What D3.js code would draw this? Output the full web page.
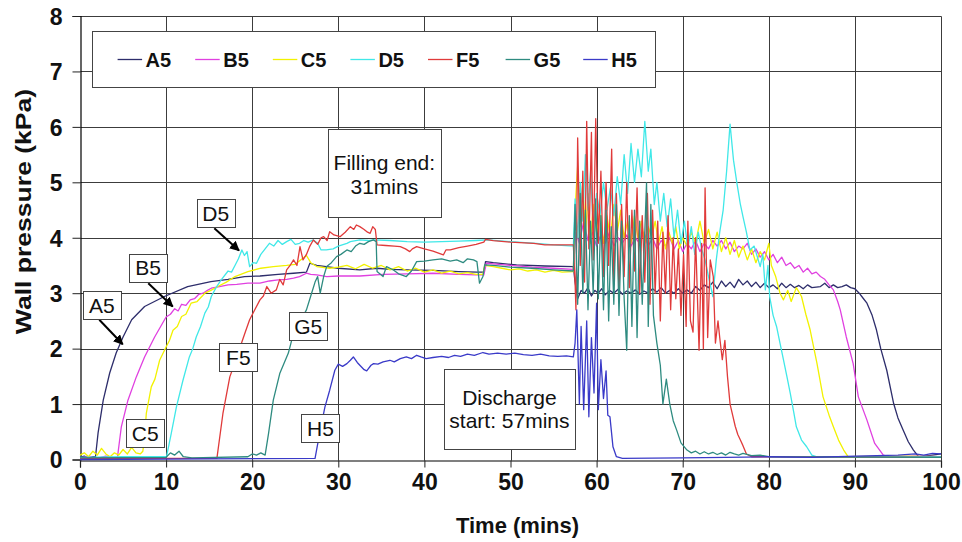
<!DOCTYPE html>
<html><head><meta charset="utf-8">
<script src="https://cdn.jsdelivr.net/npm/d3@7"></script>
<style>html,body{margin:0;padding:0;background:#fff}svg{display:block}</style>
</head><body>
<svg id="chart" width="962" height="542"></svg>
<script>
// ---------- data (time in mins, wall pressure in kPa) ----------
const seriesNames = ["A5","B5","C5","D5","F5","G5","H5"];
const seriesColors = ["#2d2d6b","#e040e0","#f2f200","#40e8e8","#e03a3a","#2e8b80","#3a3ac8"];
const xTicks = [0,10,20,30,40,50,60,70,80,90,100];
const yTicks = [0,1,2,3,4,5,6,7,8];

const a5 = [[0,0.04],[0.5,0.06],[1,0.03],[1.5,0.05],[1.8,0.05],[2.1,0.48],[2.7,1.07],[3.45,1.56],[4.2,1.92],[5,2.21],[6,2.52],[7.5,2.76],[9.8,2.94],[12.5,3.12],[15.2,3.21],[17.2,3.25],[19.1,3.3],[20.9,3.31],[23,3.34],[24.8,3.36],[26.3,3.38],[26.7,3.54],[27.5,3.5],[28.6,3.48],[30,3.45],[32.5,3.42],[34.5,3.45],[36,3.43],[38,3.42],[41,3.41],[44,3.39],[46.1,3.38],[46.9,3.38],[47.1,3.57],[48,3.55],[50.7,3.51],[54,3.49],[57.3,3.48],[57.5,3.2],[57.8,2.9],[58.2,3.05],[58.6,3.0],[59,3.1],[59.4,2.95],[59.8,3.05],[60.2,3.0],[60.6,3.08],[61,2.97],[61.5,3.05],[62,3.0],[62.5,3.07],[63,2.98],[63.5,3.04],[64,3.0],[64.5,3.06],[65,2.98],[65.5,3.04],[66,3.0],[66.5,3.08],[67,3.02],[67.5,3.1],[68,3.0],[68.5,3.05],[69,3.0],[69.5,3.08],[70,3.0],[70.5,3.06],[71,3.0],[71.5,3.12],[72,3.05],[72.5,3.15],[73,3.1],[73.5,3.2],[74,3.08],[74.5,3.22],[75,3.12],[75.5,3.2],[76,3.1],[76.5,3.25],[77,3.15],[77.5,3.22],[78,3.12],[78.5,3.2],[79,3.1],[79.5,3.18],[80,3.1],[80.5,3.15],[81,3.08],[81.5,3.18],[82,3.1],[82.5,3.16],[83,3.1],[83.5,3.14],[84,3.08],[84.5,3.15],[85,3.1],[86,3.12],[86.5,3.18],[87,3.1],[87.5,3.15],[88,3.1],[88.5,3.12],[89,3.15],[89.5,3.1],[90,3.08],[90.5,3.0],[91,2.9],[91.4,2.82],[92,2.6],[92.5,2.34],[93,2.0],[93.7,1.61],[94.5,1.01],[95,0.75],[95.6,0.53],[96.2,0.32],[96.8,0.17],[97.4,0.05],[98,0.06],[99,0.08],[100,0.1]];

const b5 = [[0,0.03],[1,0.05],[2,0.02],[3,0.06],[4,0.03],[4.35,0.04],[4.8,0.59],[5.57,1.07],[6.54,1.49],[7.5,1.85],[8.67,2.21],[10,2.57],[10.5,2.62],[11,2.72],[11.4,2.68],[11.8,2.8],[12.3,2.78],[12.8,2.88],[13.3,2.9],[13.8,2.98],[14.3,3.0],[14.8,3.05],[15.25,3.09],[16.2,3.12],[17.2,3.15],[18.2,3.16],[19.5,3.18],[20.9,3.18],[22,3.22],[23,3.24],[24,3.25],[24.8,3.27],[25.5,3.3],[26.3,3.36],[26.8,3.34],[27.5,3.33],[28.65,3.3],[30,3.31],[32.5,3.31],[35.2,3.34],[38,3.35],[41,3.36],[44,3.34],[46,3.33],[46.9,3.33],[47.2,3.54],[48,3.53],[50,3.5],[52.5,3.47],[55,3.45],[57.3,3.43],[57.6,4.1],[58,3.9],[58.5,4.3],[59,3.95],[59.5,4.1],[60,3.85],[60.5,4.05],[61,3.9],[61.5,4.1],[62,3.85],[62.5,4.0],[63,3.9],[63.5,4.05],[64,3.85],[64.5,4.0],[65,3.9],[65.5,4.1],[66,3.85],[66.5,4.0],[67,3.8],[67.5,3.95],[68,3.85],[68.5,4.0],[69,3.8],[69.5,3.95],[70,3.75],[70.5,3.9],[71,3.8],[71.5,3.95],[72,3.75],[72.5,3.9],[73,3.8],[73.5,3.95],[74,3.85],[74.5,3.95],[75,3.8],[75.5,3.92],[76,3.75],[76.5,3.85],[77,3.8],[77.5,3.9],[78,3.7],[78.5,3.8],[79,3.65],[79.5,3.75],[80,3.6],[80.5,3.7],[81,3.55],[81.5,3.65],[82,3.5],[82.5,3.55],[83,3.45],[83.5,3.5],[84,3.38],[84.5,3.45],[85,3.35],[85.5,3.38],[86,3.3],[86.5,3.25],[87,3.15],[87.5,3.06],[88,2.85],[88.3,2.7],[89,2.21],[89.8,1.73],[90.4,1.13],[91.4,0.71],[92.3,0.29],[93.3,0.08],[94,0.05],[97,0.06],[100,0.05]];

const c5 = [[0,0.08],[0.5,0.12],[1,0.05],[1.5,0.15],[2,0.08],[2.5,0.2],[3,0.1],[3.5,0.05],[4,0.12],[4.5,0.08],[5,0.18],[5.5,0.1],[6,0.22],[6.5,0.12],[7,0.1],[7.3,0.15],[7.5,0.4],[7.7,0.83],[8.28,1.31],[8.7,1.45],[9.25,1.79],[10,2.03],[10.4,2.15],[10.8,2.33],[11.3,2.4],[11.8,2.58],[12.3,2.62],[12.9,2.82],[13.6,2.85],[14.5,3.0],[15.2,3.05],[16,3.12],[17,3.2],[18,3.3],[19.5,3.39],[21,3.45],[22.45,3.48],[24,3.5],[25,3.52],[25.8,3.62],[26.3,3.68],[26.8,3.55],[27.5,3.48],[29,3.45],[30,3.47],[31,3.5],[32,3.44],[33,3.52],[34,3.45],[35,3.5],[36,3.42],[37,3.48],[38,3.4],[39,3.45],[40,3.38],[41,3.42],[42,3.36],[43,3.4],[44,3.35],[45,3.37],[46,3.34],[46.8,3.34],[47,3.5],[48,3.48],[49,3.45],[50,3.42],[51,3.44],[52,3.4],[53,3.42],[54,3.38],[55,3.41],[56,3.38],[57.3,3.39],[57.5,4.5],[57.8,5.3],[58.1,4.2],[58.4,5.0],[58.7,4.0],[59,4.8],[59.3,3.9],[59.6,4.6],[60,4.1],[60.4,4.5],[60.8,3.9],[61.2,4.4],[61.6,4.0],[62,4.6],[62.4,4.1],[62.8,4.5],[63.2,4.0],[63.6,4.3],[64,3.9],[64.4,4.4],[64.8,4.0],[65.2,4.3],[65.6,3.9],[66,4.2],[66.4,4.0],[66.8,4.3],[67.2,3.9],[67.6,4.2],[68,3.8],[68.4,4.1],[68.8,3.9],[69.2,4.2],[69.6,3.8],[70,4.0],[70.5,3.85],[71,4.1],[71.5,3.9],[72,4.3],[72.5,3.9],[73,4.15],[73.5,3.8],[74,4.1],[74.5,3.75],[75,4.0],[75.5,3.7],[76,3.95],[76.5,3.65],[77,3.85],[77.5,3.6],[78,3.8],[78.5,3.55],[79,3.75],[79.5,3.6],[80,3.9],[80.3,3.5],[80.8,3.3],[81.3,3.0],[81.7,2.88],[82.2,3.05],[82.6,2.85],[83.2,3.1],[83.8,2.94],[84.3,2.62],[84.8,2.34],[85.6,1.73],[86.3,1.13],[87,0.8],[87.5,0.59],[88.1,0.35],[88.7,0.17],[89.2,0.05],[95,0.06],[100,0.05]];

const d5 = [[0,0.04],[5,0.05],[10.05,0.05],[10.6,0.47],[11.2,0.95],[11.96,1.43],[12.7,1.85],[13.1,2.0],[13.5,2.21],[14,2.4],[14.5,2.64],[14.9,2.75],[15.25,2.94],[15.8,3.1],[16.4,3.24],[17.2,3.4],[17.6,3.38],[18,3.5],[18.4,3.62],[18.8,3.78],[19.1,3.68],[19.4,3.75],[19.7,3.48],[20.1,3.55],[20.5,3.54],[21,3.7],[21.5,3.8],[22,3.9],[22.5,3.85],[23,3.95],[23.5,3.88],[24,3.93],[24.5,3.97],[25,3.88],[25.5,3.9],[26,3.95],[26.5,3.92],[27.1,3.96],[27.6,3.9],[28,3.78],[28.6,3.78],[29.4,3.8],[30,3.85],[31,3.9],[31.4,3.93],[32.5,3.96],[33.5,3.95],[34.1,3.96],[36,3.95],[38,3.93],[40,3.92],[42,3.93],[44,3.94],[46,3.95],[47.3,3.96],[50,3.93],[53,3.9],[55,3.87],[57.3,3.85],[57.5,4.7],[57.8,4.0],[58.1,5.0],[58.4,4.3],[58.7,5.5],[59,4.5],[59.3,5.2],[59.6,4.2],[60,4.8],[60.4,4.4],[60.8,5.0],[61.2,4.5],[61.6,4.9],[62,4.4],[62.4,5.1],[62.8,4.6],[63.2,5.5],[63.6,4.8],[64,5.7],[64.4,5.0],[64.8,5.6],[65.2,5.1],[65.6,6.1],[66,5.2],[66.3,5.6],[66.7,4.6],[67,5.0],[67.4,4.3],[67.8,4.8],[68.2,4.2],[68.6,4.7],[69,4.0],[69.4,4.5],[69.8,3.9],[70.2,4.3],[70.6,3.8],[71,4.2],[71.4,3.7],[71.8,4.1],[72.2,3.8],[72.6,3.6],[73,3.3],[73.5,2.94],[73.9,3.6],[74.3,4.1],[74.7,4.5],[75.1,5.2],[75.5,6.05],[75.9,5.4],[76.3,4.98],[76.7,4.6],[77,4.38],[77.4,4.1],[77.8,3.78],[78.3,3.85],[79,3.48],[79.3,3.7],[79.6,3.06],[79.9,3.5],[80.1,2.94],[80.5,2.6],[80.9,2.4],[81.3,2.1],[81.7,1.8],[82.1,1.5],[82.5,1.19],[82.9,0.85],[83.2,0.59],[83.8,0.35],[84.4,0.23],[85,0.08],[85.5,0.05],[100,0.05]];

const f5 = [[0,0.02],[8,0.02],[15.9,0.02],[16.6,0.83],[17.4,1.49],[18,1.75],[18.6,2.03],[19.2,2.3],[19.7,2.52],[20.3,2.7],[20.9,2.88],[21.3,2.95],[21.7,3.12],[22.2,3.0],[22.8,3.06],[23.2,3.25],[23.6,3.15],[24,3.42],[24.4,3.5],[24.8,3.6],[25.2,3.5],[25.55,3.84],[25.9,3.6],[26.3,3.7],[26.7,3.85],[27.1,3.96],[27.6,3.88],[28,4.0],[28.3,4.02],[28.7,3.95],[29,4.11],[29.5,4.05],[30.2,4.02],[30.8,4.1],[31.4,4.2],[31.8,4.15],[32.1,4.23],[32.5,4.2],[33,4.15],[33.4,4.1],[33.7,4.08],[34,4.2],[34.3,4.15],[34.5,3.87],[35.5,3.86],[36.5,3.85],[37.2,3.84],[37.8,3.8],[38.3,3.75],[38.6,3.8],[39.1,3.84],[40,3.8],[41,3.76],[42.2,3.69],[42.5,3.78],[43,3.78],[44,3.82],[45,3.85],[46,3.88],[46.9,3.92],[47.1,3.97],[48,3.95],[50,3.92],[52.7,3.9],[54,3.87],[57.3,3.87],[57.5,3.2],[57.6,2.7],[57.8,5.8],[58.1,3.5],[58.4,5.2],[58.6,3.2],[58.85,6.1],[59.1,3.8],[59.4,5.9],[59.6,3.6],[59.9,6.15],[60.2,3.9],[60.5,5.2],[60.8,3.3],[61.1,5.0],[61.4,3.5],[61.75,5.6],[62,3.2],[62.3,4.8],[62.6,3.0],[62.9,4.6],[63.2,3.3],[63.5,5.0],[63.8,3.1],[64.1,4.5],[64.4,3.4],[64.7,4.9],[65,3.0],[65.3,4.4],[65.6,3.2],[65.9,4.8],[66.2,2.8],[66.5,4.5],[66.8,3.0],[67.1,4.3],[67.4,2.5],[67.7,4.1],[68,3.0],[68.3,4.4],[68.6,2.7],[68.9,4.0],[69.2,2.9],[69.5,3.8],[69.8,2.6],[70.1,3.7],[70.4,2.4],[70.6,4.3],[70.9,2.5],[71.2,2.3],[71.5,4.0],[71.9,1.97],[72.2,3.9],[72.4,2.0],[72.6,4.9],[72.9,2.2],[73.2,3.6],[73.55,3.3],[73.8,2.1],[74.1,2.5],[74.3,2.2],[74.6,1.8],[74.9,2.15],[75.2,1.5],[75.5,1.0],[75.8,0.8],[76.1,0.6],[76.4,0.45],[76.7,0.35],[77,0.25],[77.4,0.1],[78,0.05],[100,0.04]];

const g5 = [[0,0.03],[10,0.04],[10.5,0.12],[11,0.08],[11.5,0.15],[12,0.05],[13,0.03],[19.5,0.05],[20,0.1],[20.5,0.08],[21,0.12],[21.5,0.08],[21.9,0.47],[22.45,1.07],[23.2,1.55],[24.2,1.92],[24.5,2.1],[24.8,2.28],[25.2,2.2],[25.6,2.5],[26.3,2.7],[26.8,2.95],[27.3,3.2],[27.6,3.3],[27.9,3.0],[28.3,3.3],[28.65,3.48],[29.2,3.55],[29.8,3.66],[30.3,3.7],[31,3.78],[31.5,3.75],[32,3.85],[32.5,3.9],[33,3.88],[33.5,3.93],[34.1,3.96],[34.4,3.93],[34.5,3.39],[35.2,3.3],[35.6,3.48],[36,3.45],[36.4,3.42],[37,3.35],[37.9,3.3],[38.5,3.4],[39.1,3.57],[40,3.58],[41,3.6],[42,3.62],[43,3.58],[43.75,3.6],[44.5,3.55],[45,3.62],[45.7,3.6],[46.1,3.57],[46.4,3.18],[46.8,3.3],[47,3.51],[48,3.5],[50,3.47],[52.5,3.45],[55,3.42],[57.3,3.4],[57.5,4.6],[57.8,2.8],[58.1,4.8],[58.4,3.0],[58.7,4.5],[59,2.7],[59.3,4.3],[59.6,3.0],[59.9,4.7],[60.2,2.9],[60.5,4.4],[60.8,2.7],[61.1,4.5],[61.4,2.5],[61.7,4.2],[62,2.8],[62.3,4.6],[62.6,2.6],[62.9,4.3],[63.2,2.9],[63.5,1.97],[63.8,4.4],[64.1,2.4],[64.4,4.5],[64.7,2.2],[65,4.3],[65.3,2.8],[65.8,4.99],[66,2.4],[66.3,4.6],[66.6,2.6],[67,2.1],[67.4,1.7],[67.7,1.0],[68.1,1.45],[68.5,1.0],[68.9,0.7],[69.3,0.53],[69.8,0.3],[70.5,0.17],[71,0.12],[71.5,0.15],[72,0.1],[72.5,0.14],[73,0.1],[73.5,0.13],[74,0.09],[74.5,0.12],[75,0.08],[75.5,0.13],[76,0.1],[76.5,0.08],[77,0.11],[78,0.07],[79,0.08],[80,0.05],[100,0.04]];

const h5 = [[0,0.0],[27.3,0.02],[27.9,0.53],[28.45,0.95],[29,1.25],[29.6,1.61],[30,1.72],[30.5,1.68],[31,1.73],[31.4,1.79],[31.75,1.85],[32.2,1.75],[32.5,1.7],[33,1.62],[33.3,1.6],[33.8,1.7],[34.1,1.73],[34.6,1.72],[35.2,1.76],[36,1.79],[36.5,1.76],[37.2,1.82],[37.9,1.85],[38.5,1.82],[39.1,1.88],[39.6,1.85],[40.2,1.82],[41,1.84],[42,1.86],[42.8,1.84],[43.5,1.88],[44.2,1.86],[45,1.9],[45.8,1.88],[46.8,1.93],[47.5,1.9],[48.5,1.92],[49.5,1.9],[50.5,1.92],[51.5,1.89],[52.5,1.88],[53.5,1.9],[54.5,1.87],[55.5,1.86],[56.5,1.87],[57.3,1.85],[57.5,2.1],[57.7,2.7],[58,1.0],[58.2,2.4],[58.5,0.9],[58.85,2.5],[59.1,0.77],[59.4,2.2],[59.7,1.2],[60,2.82],[60.2,0.9],[60.5,1.8],[60.8,1.1],[61.1,1.6],[61.3,0.8],[61.55,0.77],[61.9,0.23],[62.3,0.05],[63,0.02],[70,0.03],[75,0.04],[80,0.05],[85,0.04],[90,0.06],[95,0.08],[97,0.1],[98,0.08],[99,0.11],[100,0.1]];

const seriesData = [a5,b5,c5,d5,f5,g5,h5];

// callout labels (data coordinates of box centres)
const calloutNames = ["A5","B5","C5","D5","F5","G5","H5"];
const calloutTime  = [2.53, 7.92, 7.57, 15.76, 18.39, 26.5, 27.93];
const calloutValue = [2.78, 3.46, 0.47, 4.44, 1.84, 2.4, 0.56];
// arrows: from / to in data coordinates
const arrowFromTime = [2.24, 7.93, 15.6];
const arrowFromValue = [2.52, 3.18, 4.17];
const arrowToTime = [4.96, 10.77, 18.47];
const arrowToValue = [2.08, 2.76, 3.77];
// note boxes
const noteLines = [["Filling end:","31mins"],["Discharge","start: 57mins"]];
const noteTime = [35.35, 49.88];
const noteValue = [5.17, 0.91];

// ---------- drawing ----------
const FONT = "'Liberation Sans', Arial, sans-serif";
const svg = d3.select("#chart");
const x = d3.scaleLinear().domain([0,100]).range([80,941]);
const y = d3.scaleLinear().domain([0,8]).range([459.5,16]);
const px = v => Math.round(x(v)) + 0.5;
const py = v => Math.round(y(v)) + 0.5;

svg.append("rect").attr("width",962).attr("height",542).attr("fill","#fff");

// grid
const grid = svg.append("g");
grid.selectAll("line.v").data(xTicks.slice(1)).enter().append("line")
  .attr("x1",d=>px(d)).attr("x2",d=>px(d)).attr("y1",py(8)).attr("y2",py(0))
  .attr("stroke","#3c3c3c").attr("stroke-width",1);
grid.selectAll("line.h").data(yTicks.slice(1)).enter().append("line")
  .attr("x1",px(0)).attr("x2",px(100)).attr("y1",d=>py(d)).attr("y2",d=>py(d))
  .attr("stroke","#3c3c3c").attr("stroke-width",1);

// axes
const yAxis = d3.axisLeft(y).tickValues(yTicks).tickSize(8).tickPadding(10).tickFormat(d3.format("d"));
const xAxis = d3.axisBottom(x).tickValues(xTicks).tickSize(7).tickPadding(6).tickFormat(d3.format("d"));
const gy = svg.append("g").attr("transform","translate(0.5,0)").call(yAxis);
const gx = svg.append("g").attr("transform","translate(0,0)").call(xAxis);
gy.attr("transform",`translate(${px(0)},0)`);
gx.attr("transform",`translate(0,${py(0)})`);
[gx,gy].forEach(g=>{
  g.select(".domain").attr("stroke","#000").attr("stroke-width",1.2);
  g.selectAll(".tick line").attr("stroke","#222");
  g.selectAll(".tick text").attr("font-family",FONT).attr("font-weight","bold")
   .attr("font-size",23).attr("fill","#111");
});
gy.selectAll(".tick text").attr("dy","0.36em");
gx.selectAll(".tick text").attr("dy","0.72em");

// series lines
const line = d3.line().x(d=>x(d[0])).y(d=>y(d[1]));
svg.append("g").selectAll("path").data(seriesData).enter().append("path")
  .attr("d",line).attr("fill","none")
  .attr("stroke",(d,i)=>seriesColors[i]).attr("stroke-width",1.3)
  .attr("stroke-linejoin","round");

// axis titles
svg.append("text").attr("transform","translate(23,211.5) rotate(-90) scale(1.18,1)")
  .attr("text-anchor","middle").attr("dy","0.35em")
  .attr("font-family",FONT).attr("font-weight","bold").attr("font-size",22.5).attr("fill","#111")
  .text("Wall pressure (kPa)");
svg.append("text").attr("x",517.5).attr("y",533)
  .attr("text-anchor","middle")
  .attr("font-family",FONT).attr("font-weight","bold").attr("font-size",22).attr("fill","#111")
  .text("Time (mins)");

// legend
const lg = svg.append("g");
lg.append("rect").attr("x",92.5).attr("y",31.5).attr("width",563).attr("height",56)
  .attr("fill","#fff").attr("stroke","#444").attr("stroke-width",1);
seriesNames.forEach((n,i)=>{
  const lx = 117.6 + i*77.6;
  lg.append("line").attr("x1",lx).attr("x2",lx+24.5).attr("y1",59.5).attr("y2",59.5)
    .attr("stroke",seriesColors[i]).attr("stroke-width",1.3);
  lg.append("text").attr("x",lx+28).attr("y",66.5)
    .attr("font-family",FONT).attr("font-weight","bold").attr("font-size",20).attr("fill","#111")
    .text(n);
});

// arrows
const defs = svg.append("defs");
defs.append("marker").attr("id","ah").attr("viewBox","0 0 10 10").attr("refX",9).attr("refY",5)
  .attr("markerWidth",5).attr("markerHeight",5).attr("orient","auto")
  .append("path").attr("d","M0,0 L10,5 L0,10 z").attr("fill","#000");
arrowFromTime.forEach((t,i)=>{
  svg.append("line").attr("x1",x(t)).attr("y1",y(arrowFromValue[i]))
    .attr("x2",x(arrowToTime[i])).attr("y2",y(arrowToValue[i]))
    .attr("stroke","#000").attr("stroke-width",2).attr("marker-end","url(#ah)");
});

// callout boxes
calloutNames.forEach((n,i)=>{
  const cx = x(calloutTime[i]), cy = y(calloutValue[i]);
  svg.append("rect").attr("x",Math.round(cx-19)+0.5).attr("y",Math.round(cy-14)+0.5)
    .attr("width",38).attr("height",28).attr("fill","#fff").attr("stroke","#444");
  svg.append("text").attr("x",cx).attr("y",cy+7.5).attr("text-anchor","middle")
    .attr("font-family",FONT).attr("font-size",21).attr("fill","#111").text(n);
});

// note boxes
const noteSize = [[113,88],[131,80]];
noteLines.forEach((lines,i)=>{
  const cx = x(noteTime[i]), cy = y(noteValue[i]);
  const [w,h] = noteSize[i];
  svg.append("rect").attr("x",Math.round(cx-w/2)+0.5).attr("y",Math.round(cy-h/2)+0.5)
    .attr("width",w).attr("height",h).attr("fill","#fff").attr("stroke","#444");
  lines.forEach((s,j)=>{
    svg.append("text").attr("x",cx).attr("y",cy + (i===0 ? -2.7 : -4.5) + j*23.5)
      .attr("text-anchor","middle").attr("font-family",FONT).attr("font-size",21)
      .attr("fill","#111").text(s);
  });
});
</script>
</body></html>
